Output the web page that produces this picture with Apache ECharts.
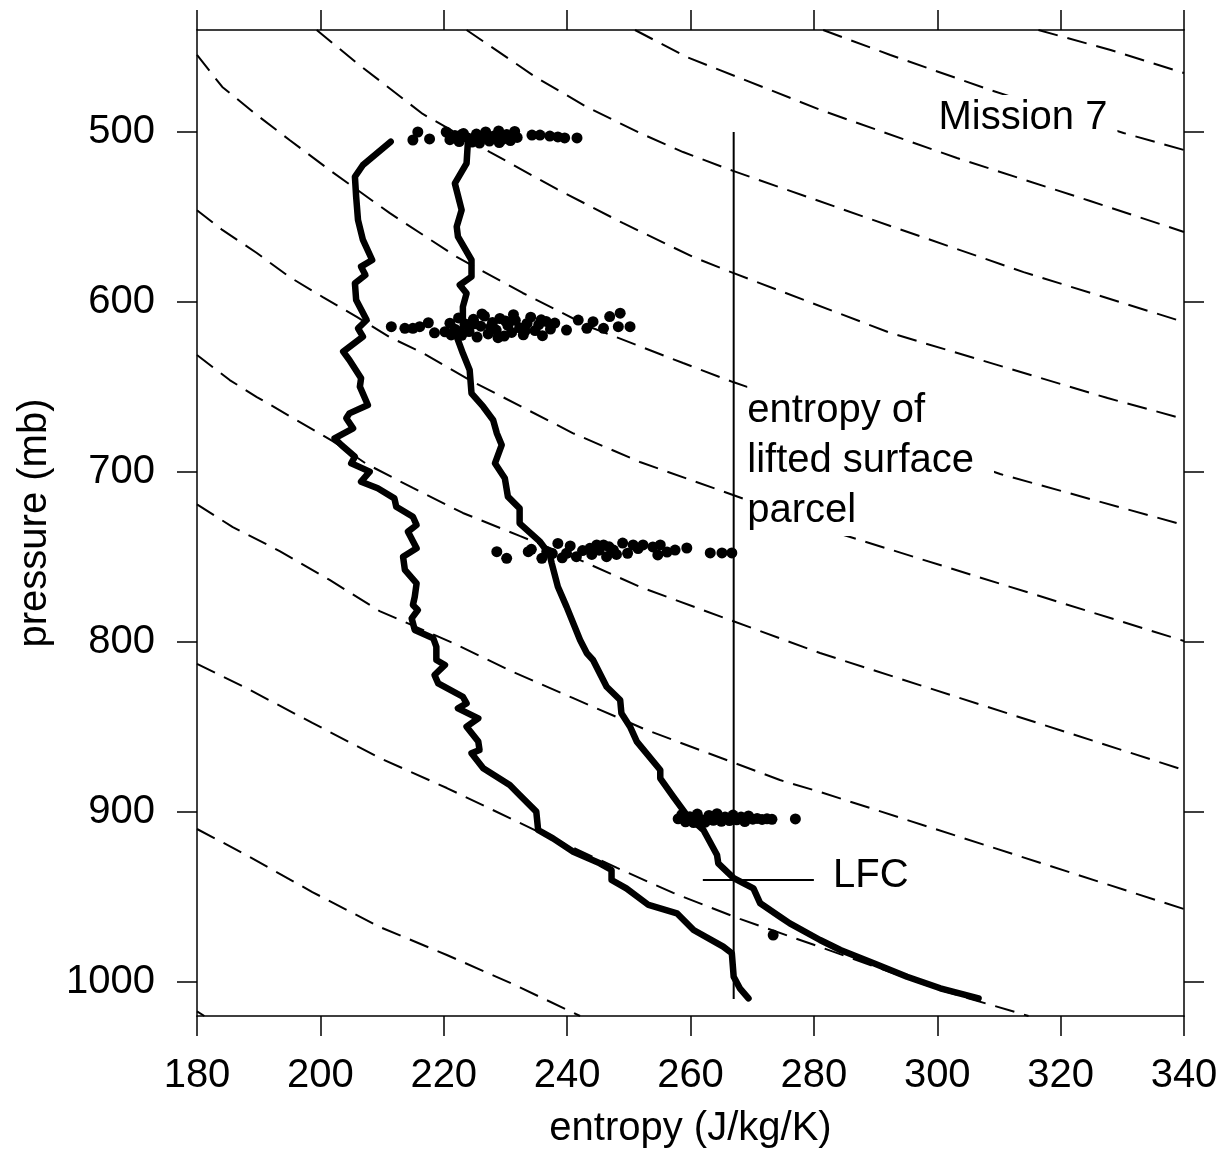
<!DOCTYPE html>
<html>
<head>
<meta charset="utf-8">
<script src="https://cdn.jsdelivr.net/npm/echarts@6/dist/echarts.min.js"></script>
<style>
html, body { margin: 0; padding: 0; background: #fff; }
#chart { width: 1226px; height: 1155px; }
</style>
</head>
<body>
<div id="chart"></div>
<script>
// Axis ticks
const entropyTicks = [180, 200, 220, 240, 260, 280, 300, 320, 340];
const pressureTicks = [500, 600, 700, 800, 900, 1000];

// Sounding profiles, [entropy (J/kg/K), pressure (mb)]
const moistEntropy = [
  [211.4,505.7],[206.9,519.4],[205.6,526.3],[205.8,538.1],[206.1,551.8],[206.9,563.5],[208.4,575.3],
  [206.6,579.2],[207.3,584.1],[205.6,589.0],[205.8,598.8],[207.5,610.6],[206.1,615.5],[206.9,620.4],
  [203.7,629.2],[204.7,634.1],[206.6,644.9],[206.4,649.8],[207.7,660.6],[204.7,665.5],[204.2,668.4],
  [205.3,674.3],[202.3,680.2],[203.4,684.1],[205.6,691.0],[205.0,694.9],[208.0,699.8],[206.6,705.7],
  [209.3,709.6],[212.0,715.5],[212.3,720.4],[215.0,726.3],[215.6,731.2],[214.2,735.1],[215.6,744.9],
  [213.4,749.8],[213.7,757.6],[215.6,765.5],[215.3,773.4],[215.0,778.2],[215.8,781.2],[214.8,786.1],
  [215.3,792.9],[218.3,797.8],[218.8,802.8],[218.8,810.6],[220.2,813.5],[218.5,819.4],[219.1,824.3],
  [223.1,832.2],[223.7,836.1],[222.3,839.0],[225.6,844.9],[223.7,849.8],[225.6,858.6],[225.8,863.5],
  [224.5,865.5],[226.4,874.3],[230.7,884.1],[232.3,890.0],[235.0,899.8],[235.3,910.6],[237.7,915.5],
  [241.0,923.4],[245.3,930.2],[247.2,934.1],[247.2,940.0],[249.6,944.9],[253.2,954.7],[257.8,959.6],
  [260.5,969.4],[265.3,979.2],[266.7,983.1],[267.0,996.9],[268.0,1003.7],[269.4,1009.6]
];
const saturatedEntropy = [
  [223.9,506.6],[223.7,518.4],[221.8,530.2],[222.9,545.9],[222.1,555.7],[222.3,561.6],[224.5,575.3],
  [224.5,585.1],[222.6,590.0],[223.7,594.9],[223.1,602.8],[223.1,614.5],[222.1,620.4],[223.1,630.2],
  [224.2,640.0],[224.5,653.7],[226.4,661.6],[228.0,669.4],[228.6,677.2],[229.4,684.1],[228.3,694.9],
  [229.9,703.7],[230.4,714.5],[232.3,721.4],[232.3,730.2],[235.6,741.0],[237.2,748.8],[237.5,753.7],
  [238.5,767.5],[239.9,779.2],[242.1,798.8],[243.2,806.6],[244.2,810.6],[246.4,826.3],[248.6,834.1],
  [248.8,841.9],[250.2,849.8],[251.3,858.6],[255.1,875.3],[255.1,880.2],[257.2,891.0],[259.4,901.8],
  [262.1,910.6],[264.3,925.3],[264.5,930.2],[267.0,938.9],[270.2,944.9],[271.3,953.7],[274.5,961.6],
  [276.1,965.5],[281.0,975.3],[284.3,981.2],[289.7,989.0],[295.1,996.9],[300.5,1003.7],[306.7,1009.6]
];

// Flight-level observations
const obs500 = [
  [215.0,504.7],[215.8,500.0],[217.7,504.1],[220.4,500.0],[221.0,504.5],[221.8,502.0],[222.5,505.6],
  [222.9,501.5],[223.2,500.9],[223.9,503.5],[224.6,505.9],[225.3,501.2],[225.8,506.5],[226.0,503.8],
  [226.8,500.0],[227.4,505.3],[228.1,502.4],[228.9,499.4],[229.0,506.2],[229.5,504.4],[230.2,501.5],
  [230.8,505.0],[231.5,499.7],[231.9,503.2],[234.3,501.8],[235.6,501.8],[237.2,502.4],[238.5,502.9],
  [239.6,503.5],[241.6,503.5]
];
const obs615 = [
  [211.5,614.5],[213.7,615.5],[215.0,615.5],[216.1,614.5],[217.5,612.2],[218.5,618.1],[220.2,617.5],
  [221.0,612.5],[221.2,619.4],[221.8,616.0],[222.4,609.4],[222.9,619.6],[223.5,613.0],[224.1,617.4],
  [224.8,610.2],[225.0,612.8],[225.4,620.6],[226.0,614.2],[226.2,607.0],[226.6,608.3],[227.2,618.8],
  [227.6,614.9],[227.9,612.0],[228.5,616.5],[228.8,621.0],[229.1,609.7],[229.8,620.0],[230.0,611.2],
  [230.4,613.8],[231.0,617.9],[231.3,607.5],[231.6,610.8],[232.3,615.2],[232.9,619.3],[233.2,617.0],
  [233.5,612.6],[234.1,608.9],[234.8,616.8],[235.4,613.3],[235.8,610.5],[236.0,619.8],[236.6,611.4],
  [237.3,615.9],[238.0,612.4],[239.9,616.5],[241.8,610.6],[243.2,615.5],[244.2,611.6],[245.9,615.5],
  [246.9,608.6],[248.6,606.6],[248.3,614.5],[250.2,614.5]
];
const obs750 = [
  [228.6,746.9],[230.2,750.8],[233.7,746.9],[234.2,745.5],[235.9,750.8],[236.7,746.9],[237.6,748.0],
  [238.5,742.0],[239.2,750.5],[239.9,747.8],[240.5,743.5],[241.5,749.8],[242.5,746.2],[243.7,744.9],
  [244.0,748.5],[244.8,742.9],[245.2,746.0],[245.9,742.9],[246.4,749.8],[246.8,744.0],[247.5,745.9],
  [248.0,748.5],[249.0,741.8],[249.8,747.8],[250.7,742.9],[251.5,745.0],[252.3,742.9],[253.9,744.1],
  [254.7,748.8],[255.1,742.9],[256.2,747.1],[257.5,745.9],[259.4,744.7],[263.2,747.6],[265.1,747.6],
  [266.7,747.6]
];
const obs905 = [
  [258.0,904.0],[258.6,901.5],[259.2,905.8],[259.9,902.8],[260.5,906.2],[261.1,901.2],[261.8,904.5],
  [262.4,906.0],[263.0,902.0],[263.7,904.9],[264.3,901.0],[265.0,905.5],[265.6,902.9],[266.3,905.0],
  [266.9,901.8],[267.5,904.6],[268.2,903.0],[268.8,905.6],[269.4,902.3],[270.1,904.2],[270.8,903.8],
  [271.6,904.4],[272.4,904.0],[273.2,904.3],[277.0,904.1]
];
const obsLow = [[273.4,972.4]];

// Lifted surface parcel entropy and level of free convection
const liftedParcel = [[267, 500], [267, 1010]];
const lfcMark = [[262, 940], [280, 940]];

// Dashed reference curves
const ref1 = [[316.4,440],[328.1,451.8],[340,465.3]];
const ref2 = [[281.5,440],[292.4,454.7],[308.6,475.3],[330.2,500.6],[340,510.6]];
const ref3 = [[251.0,440],[259.4,455.9],[281.5,487.6],[303.2,515.3],[324.8,540.6],[340,558.8]];
const ref4 = [[223.7,440],[235.1,468.2],[243.2,485.3],[251.8,500.6],[258.8,511.8],[266.9,522.9],
  [292.4,555.3],[314.0,582.4],[340,611.8]];
const ref5 = [[199.4,440],[205.9,459.4],[216.6,489.4],[227.5,511.8],[238.3,533.5],[249.0,553.5],
  [260.4,573.5],[266.9,582.9],[292.4,618.2],[327.6,656.5],[340,668.8]];
const ref6 = [[180,454.7],[184.1,473.5],[189.7,490.0],[195.0,504.7],[201.5,522.4],[211.2,547.6],
  [222.1,573.5],[232.8,594.7],[243.7,614.7],[258.8,635.9],[266.9,647.1],[310.2,701.2],[340,731.2]];
const ref7 = [[180,546.0],[184.1,557.6],[189.7,571.2],[195.0,585.3],[200.4,597.1],[205.9,608.8],
  [211.2,620.6],[216.6,630.0],[224.2,645.9],[240.9,677.1],[251.8,694.1],[266.9,713.5],[283.8,735.9],
  [340,799.4]];
const ref8 = [[180,631.2],[185.3,645.9],[189.7,655.9],[202.0,681.8],[207.5,695.3],[215.0,709.4],
  [223.1,724.1],[232.3,737.6],[242.1,751.8],[251.8,767.6],[281.0,806.5],[340,875.3]];
const ref9 = [[180,719.1],[185.8,732.4],[193.4,746.5],[201.5,763.5],[209.6,781.8],[221.5,800.6],
  [231.2,817.6],[240.9,832.9],[252.9,851.8],[274.5,881.2],[281.0,888.2],[340,957.1]];
const ref10 = [[180,812.9],[188.0,827.1],[198.7,847.6],[209.6,868.2],[220.5,885.9],[235.1,911.2],
  [248.1,932.9],[257.2,947.6],[268.0,962.9],[281.0,979.4],[289.6,990.6],[300.5,1004.7],[314.8,1020]];
const ref11 = [[180,910.0],[188.0,925.3],[198.7,947.1],[209.6,967.6],[220.5,984.1],[231.2,1001.2],
  [242.1,1020]];
const ref12 = [[180,1017.3],[181.2,1020]];

// Text notes anchored in data space: [entropy, pressure] of the text box's left edge
const noteMission = { text: 'Mission 7', at: [300.2, 491.8] };
const noteParcel = { text: 'entropy of\nlifted surface\nparcel', at: [269.2, 649.4] };
const noteLfc = { text: 'LFC', at: [283.1, 937.6] };

const FONT = '"Liberation Sans", Arial, Helvetica, sans-serif';
const black = '#000';

const chart = echarts.init(document.getElementById('chart'), null, { renderer: 'canvas' });

const dashed = [ref1, ref2, ref3, ref4, ref5, ref6, ref7, ref8, ref9, ref10, ref11, ref12].map(function (d) {
  return {
    type: 'line', data: d, symbol: 'none', silent: true, z: 1, animation: false,
    lineStyle: { color: black, width: 2, type: [20, 10] }
  };
});

function profile(d) {
  return {
    type: 'line', data: d, symbol: 'none', silent: true, z: 4, animation: false,
    lineStyle: { color: black, width: 6.5, join: 'round', cap: 'round' }
  };
}
function thin(d) {
  return {
    type: 'line', data: d, symbol: 'none', silent: true, z: 5, animation: false,
    lineStyle: { color: black, width: 2 }
  };
}
function dots(d) {
  return {
    type: 'scatter', data: d, symbol: 'circle', symbolSize: 11, silent: true, z: 6, animation: false,
    itemStyle: { color: black, opacity: 1 }
  };
}
function plainNumber(v) { return String(v); }

const xAxisCommon = {
  type: 'value', min: 180, max: 340, interval: 20,
  axisLine: { show: true, onZero: false, lineStyle: { color: black, width: 1.5 } },
  axisTick: { show: true, inside: false, length: 20, lineStyle: { color: black, width: 1.5 } },
  splitLine: { show: false }
};
const yAxisCommon = {
  type: 'value', min: 440, max: 1020, inverse: true,
  axisLine: { show: true, onZero: false, lineStyle: { color: black, width: 1.5 } },
  axisTick: { show: true, inside: false, length: 20, customValues: pressureTicks, lineStyle: { color: black, width: 1.5 } },
  splitLine: { show: false }
};

chart.setOption({
  backgroundColor: '#fff',
  animation: false,
  grid: { left: 197, top: 30, width: 987, height: 986, containLabel: false },
  xAxis: [
    Object.assign({}, xAxisCommon, {
      position: 'bottom',
      axisLabel: {
        show: true, margin: 40, color: black, fontSize: 40, fontFamily: FONT,
        customValues: entropyTicks, formatter: plainNumber
      },
      name: 'entropy (J/kg/K)', nameLocation: 'middle', nameGap: 93,
      nameTextStyle: { color: black, fontSize: 40, fontFamily: FONT }
    }),
    Object.assign({}, xAxisCommon, { position: 'top', axisLabel: { show: false } })
  ],
  yAxis: [
    Object.assign({}, yAxisCommon, {
      position: 'left',
      axisLabel: {
        show: true, margin: 42, color: black, fontSize: 40, fontFamily: FONT,
        customValues: pressureTicks, formatter: plainNumber
      },
      name: 'pressure (mb)', nameLocation: 'middle', nameGap: 138, nameRotate: 90,
      nameTextStyle: { color: black, fontSize: 40, fontFamily: FONT }
    }),
    Object.assign({}, yAxisCommon, { position: 'right', axisLabel: { show: false } })
  ],
  series: dashed.concat([
    profile(moistEntropy),
    profile(saturatedEntropy),
    thin(liftedParcel),
    thin(lfcMark),
    dots(obs500),
    dots(obs615),
    dots(obs750),
    dots(obs905),
    dots(obsLow)
  ])
});

// Place the text notes at their data positions, on white boxes over the dashed curves
function noteGraphic(note, opts) {
  const px = chart.convertToPixel({ xAxisIndex: 0, yAxisIndex: 0 }, note.at);
  return {
    type: 'text', x: px[0], y: px[1], z: 3, silent: true,
    style: Object.assign({
      text: note.text, fill: black, fontSize: 40, fontFamily: FONT,
      align: 'left', backgroundColor: '#fff'
    }, opts)
  };
}
chart.setOption({
  graphic: [
    noteGraphic(noteMission, { verticalAlign: 'middle', lineHeight: 46, padding: [0, 10, 0, 0] }),
    noteGraphic(noteParcel, { verticalAlign: 'top', lineHeight: 50, padding: [0, 20, 0, 0] }),
    noteGraphic(noteLfc, { verticalAlign: 'middle', lineHeight: 46, backgroundColor: 'transparent' })
  ]
});
</script>
</body>
</html>
